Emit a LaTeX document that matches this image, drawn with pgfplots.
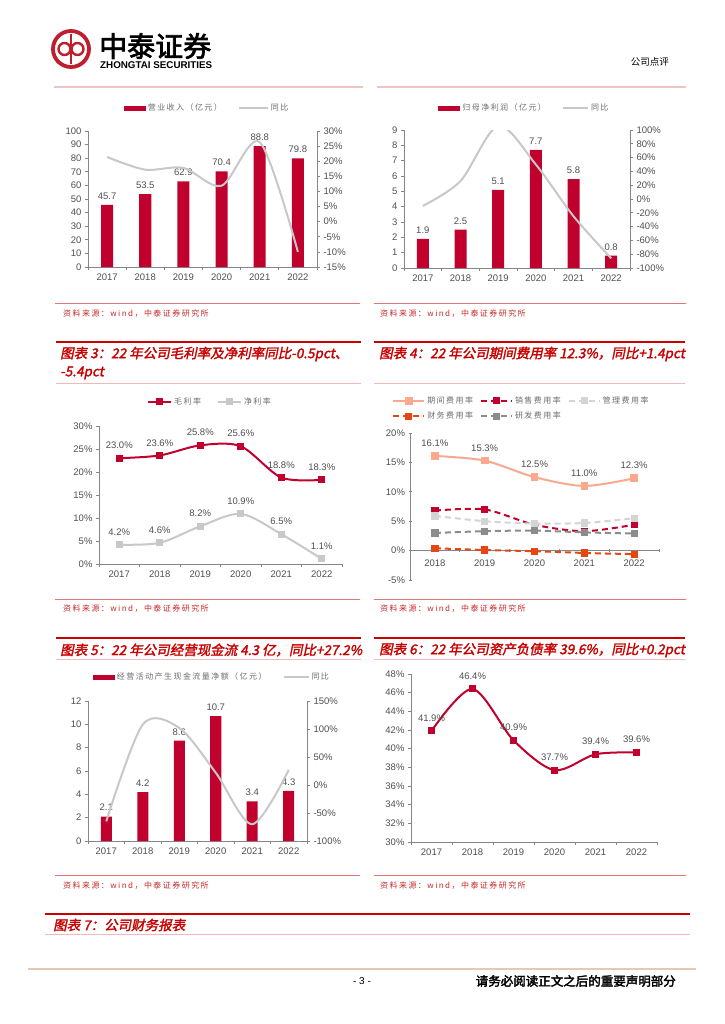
\documentclass[border=0pt]{standalone}
\usepackage{pgfplots}
\pgfplotsset{compat=1.18}
\usepackage{fontspec}
\setmainfont{Liberation Sans}
\newfontfamily\cjk{Noto Sans CJK SC}
\newfontfamily\cjks{Noto Sans CJK SC}[LetterSpace=18]
\newfontfamily\cjkt{Noto Sans CJK SC}[FakeBold=2,FakeSlant=0.2]
\newfontfamily\cjkbold{Noto Sans CJK SC}[FakeBold=2.5]

\definecolor{barred}{RGB}{192,0,45}
\definecolor{lgray}{RGB}{200,200,200}
\definecolor{axgray}{RGB}{134,134,134}
\definecolor{lblgray}{RGB}{80,80,80}
\definecolor{leggray}{RGB}{110,110,110}
\definecolor{titred}{RGB}{200,0,0}
\definecolor{srcred}{RGB}{200,40,40}
\definecolor{sepred}{RGB}{225,120,120}
\definecolor{thinpink}{RGB}{242,185,185}
\definecolor{hdrpink}{RGB}{238,195,195}
\definecolor{foottan}{RGB}{232,200,175}
\definecolor{salmon}{RGB}{250,168,142}
\definecolor{orng}{RGB}{228,70,20}
\definecolor{mgray}{RGB}{212,212,212}
\definecolor{dgray}{RGB}{140,140,140}
\definecolor{logored}{RGB}{190,30,45}

\pgfplotsset{
  base/.style={
    scale only axis, anchor=south west, clip=false,
    /pgf/number format/assume math mode=true,
    axis line style={draw=axgray, line width=0.7pt},
    tick style={draw=axgray, line width=0.7pt},
    tick align=outside,
    major tick length=3pt, minor tick length=3pt,
    ticklabel style={font=\fontsize{9.5}{10.5}\selectfont, text=lblgray},
    legend style={draw=none, fill=none, inner sep=0pt, font=\cjks\fontsize{8}{9}\selectfont, text=leggray,
      /tikz/every even column/.append style={column sep=14pt}},
    legend cell align=left,
  },
  cats6/.style={xmin=-0.5, xmax=5.5, xtick={0,...,5}, xticklabels={2017,2018,2019,2020,2021,2022},
    minor xtick={-0.5,0.5,...,5.5}, major x tick style={draw=none}},
  prim/.style={base, axis x line*=bottom, axis y line*=left, axis line style={-}},
  sec/.style={base, clip=true, axis x line=none, axis y line*=right, xmin=-0.5, xmax=5.5, xtick=\empty, axis line style={-}},
  lbl/.style={nodes near coords, point meta=explicit symbolic,
    every node near coord/.append style={font=\fontsize{9.5}{11}\selectfont, text=lblgray, yshift=#1}},
  barleg/.style={legend image code/.code={\fill[barred] (0pt,-2.5pt) rectangle (22pt,2.5pt);}},
  mleg/.style={legend image code/.code={\draw[mark repeat=2, mark phase=2, ##1] plot coordinates {(0pt,0pt) (#1/2,0pt) (#1,0pt)};}},
}

\begin{document}
\begin{tikzpicture}
\useasboundingbox (0,0) rectangle (724pt,-1024pt);
\fill[white] (0,0) rectangle (724pt,-1024pt);

% ---------- header ----------
\draw[logored, line width=3.8pt] (71pt,-49pt) circle (18pt);
\draw[logored, line width=2.6pt] (71pt,-34pt) -- (71pt,-64pt);
\draw[logored, line width=2.4pt] (64.5pt,-49pt) circle (6pt);
\draw[logored, line width=2.4pt] (77.5pt,-49pt) circle (6pt);
\node[anchor=west, inner sep=0pt, font=\cjkbold\fontsize{28}{31}\selectfont] at (99pt,-46pt) {中泰证券};
\node[anchor=west, inner sep=0pt, font=\bfseries\fontsize{9.8}{11}\selectfont] at (100pt,-65pt) {ZHONGTAI SECURITIES};
\node[anchor=east, inner sep=0pt, font=\cjk\fontsize{9.5}{11}\selectfont] at (669pt,-62pt) {公司点评};
\draw[hdrpink, line width=1.5pt] (54pt,-87pt) -- (363pt,-87pt);
\draw[hdrpink, line width=1.5pt] (377pt,-87pt) -- (686pt,-87pt);

% ---------- section rules and captions ----------
\foreach \y in {303,599,875}{
  \draw[sepred, line width=0.8pt] (55pt,-\y pt) -- (360pt,-\y pt);
  \draw[sepred, line width=0.8pt] (374pt,-\y pt) -- (686pt,-\y pt);
}
\foreach \y in {314,609,886}{
  \node[anchor=west, inner sep=0pt, text=srcred, font=\cjks\fontsize{8}{9}\selectfont] at (63pt,-\y pt) {资料来源：wind，中泰证券研究所};
  \node[anchor=west, inner sep=0pt, text=srcred, font=\cjks\fontsize{8}{9}\selectfont] at (380pt,-\y pt) {资料来源：wind，中泰证券研究所};
}
\foreach \y in {342,638}{
  \draw[titred, line width=1.8pt] (56pt,-\y pt) -- (361pt,-\y pt);
  \draw[titred, line width=1.8pt] (374pt,-\y pt) -- (685pt,-\y pt);
}
\draw[thinpink, line width=1pt] (56pt,-383pt) -- (361pt,-383pt);
\draw[thinpink, line width=1pt] (374pt,-383pt) -- (685pt,-383pt);
\draw[thinpink, line width=1pt] (56pt,-659pt) -- (361pt,-659pt);
\draw[thinpink, line width=1pt] (374pt,-659pt) -- (685pt,-659pt);
\draw[titred, line width=1.8pt] (45pt,-914pt) -- (690pt,-914pt);
\draw[thinpink, line width=1pt] (45pt,-934pt) -- (690pt,-934pt);

\tikzset{ttl/.style={anchor=west, inner sep=0pt, text=titred, font=\cjkt\fontsize{13.5}{15}\selectfont}}
\node[ttl] at (60pt,-354pt) {图表 3：22 年公司毛利率及净利率同比-0.5pct、};
\node[ttl] at (60pt,-373pt) {-5.4pct};
\node[ttl] at (379pt,-354pt) {图表 4：22 年公司期间费用率 12.3\%，同比+1.4pct};
\node[ttl] at (60pt,-650pt) {图表 5：22 年公司经营现金流 4.3 亿，同比+27.2\%};
\node[ttl] at (379pt,-650pt) {图表 6：22 年公司资产负债率 39.6\%，同比+0.2pct};
\node[ttl] at (53pt,-925pt) {图表 7：公司财务报表};

% ---------- footer ----------
\draw[foottan, line width=1.5pt] (28pt,-969pt) -- (696pt,-969pt);
\node[inner sep=0pt, font=\fontsize{10}{11}\selectfont] at (362pt,-981pt) {- 3 -};
\node[anchor=east, inner sep=0pt, font=\cjkbold\fontsize{12.5}{14}\selectfont] at (676pt,-981pt) {请务必阅读正文之后的重要声明部分};

% ---------- chart 1: revenue ----------
\begin{axis}[prim, cats6, at={(88pt,-267pt)}, width=229pt, height=136pt,
  ymin=0, ymax=100, ytick={0,10,...,100},
  legend columns=-1, legend style={at={(0.52,1.169)}, anchor=center}]
\addplot[ybar, bar width=12pt, fill=barred, draw=none, lbl=2pt, barleg]
  coordinates {(0,45.7)[45.7] (1,53.5)[53.5] (2,62.9)[62.9] (3,70.4)[70.4] (4,88.8)[88.8] (5,79.8)[79.8]};
\addlegendentry{营业收入（亿元）}
\addlegendimage{legend image code/.code={\draw[lgray, line width=2pt] (0pt,0pt) -- (29pt,0pt);}}
\addlegendentry{同比}
\end{axis}
\begin{axis}[sec, at={(88pt,-267pt)}, width=229pt, height=136pt,
  ymin=-15, ymax=30, ytick={-15,-10,...,30},
  yticklabels={-15\%,-10\%,-5\%,0\%,5\%,10\%,15\%,20\%,25\%,30\%}]
\addplot[smooth, lgray, line width=2pt] coordinates {(0,21.4) (1,17.2) (2,17.8) (3,11.9) (4,26.3) (5,-10.0)};
\end{axis}

% ---------- chart 2: net profit ----------
\begin{axis}[prim, cats6, at={(404pt,-268pt)}, width=226pt, height=138pt,
  ymin=0, ymax=9, ytick={0,1,...,9},
  legend columns=-1, legend style={at={(0.533,1.159)}, anchor=center}]
\addplot[ybar, bar width=12pt, fill=barred, draw=none, lbl=2pt, barleg]
  coordinates {(0,1.9)[1.9] (1,2.5)[2.5] (2,5.1)[5.1] (3,7.7)[7.7] (4,5.8)[5.8] (5,0.8)[0.8]};
\addlegendentry{归母净利润（亿元）}
\addlegendimage{legend image code/.code={\draw[lgray, line width=2pt] (0pt,0pt) -- (25pt,0pt);}}
\addlegendentry{同比}
\end{axis}
\begin{axis}[sec, at={(404pt,-268pt)}, width=226pt, height=138pt,
  ymin=-100, ymax=100, ytick={-100,-80,...,100},
  yticklabels={-100\%,-80\%,-60\%,-40\%,-20\%,0\%,20\%,40\%,60\%,80\%,100\%}]
\addplot[smooth, lgray, line width=2pt] coordinates {(0,-10) (1,26) (2,106) (3,50) (4,-25) (5,-86)};
\end{axis}

% ---------- chart 3: margins ----------
\begin{axis}[prim, cats6, at={(99pt,-564pt)}, width=243pt, height=138pt,
  ymin=0, ymax=30, ytick={0,5,...,30}, yticklabels={0\%,5\%,10\%,15\%,20\%,25\%,30\%},
  legend columns=-1, legend style={at={(0.457,1.174)}, anchor=center}]
\addplot[smooth, barred, line width=2pt, mark=square*, mark size=2.5pt, lbl=5pt, mleg=23pt]
  coordinates {(0,23.0)[23.0\%] (1,23.6)[23.6\%] (2,25.8)[25.8\%] (3,25.6)[25.6\%] (4,18.8)[18.8\%] (5,18.3)[18.3\%]};
\addlegendentry{毛利率}
\addplot[smooth, lgray, line width=2pt, mark=square*, mark size=2.5pt, lbl=5pt, mleg=23pt]
  coordinates {(0,4.2)[4.2\%] (1,4.6)[4.6\%] (2,8.2)[8.2\%] (3,10.9)[10.9\%] (4,6.5)[6.5\%] (5,1.1)[1.1\%]};
\addlegendentry{净利率}
\end{axis}

% ---------- chart 4: expense ratios ----------
\begin{axis}[base, at={(410pt,-580pt)}, width=249pt, height=147pt,
  xmin=-0.5, xmax=4.5, ymin=-5, ymax=20,
  axis x line=middle, axis y line=left, axis line style={-},
  hide obscured x ticks=false, hide obscured y ticks=false,
  xtick={0,...,4}, xticklabels={2018,2019,2020,2021,2022},
  minor xtick={-0.5,0.5,...,4.5}, major x tick style={draw=none},
  xticklabel style={yshift=-4pt},
  ytick={-5,0,...,20}, yticklabels={-5\%,0\%,5\%,10\%,15\%,20\%},
  legend columns=3,
  legend style={at={(-0.072,1.262)}, anchor=north west, row sep=3pt,
    /tikz/every even column/.append style={column sep=5pt}}]
\addplot[smooth, salmon, line width=2pt, mark=square*, mark size=2.8pt, lbl=5pt, mleg=31pt]
  coordinates {(0,16.1)[16.1\%] (1,15.3)[15.3\%] (2,12.5)[12.5\%] (3,11.0)[11.0\%] (4,12.3)[12.3\%]};
\addlegendentry{期间费用率}
\addplot[smooth, barred, line width=2pt, dash pattern=on 6pt off 4pt, mark=square*, mark size=2.6pt, mark options={solid}, mleg=31pt]
  coordinates {(0,6.8) (1,7.0) (2,4.4) (3,3.3) (4,4.4)};
\addlegendentry{销售费用率}
\addplot[smooth, mgray, line width=2pt, dash pattern=on 6pt off 4pt, mark=square*, mark size=2.6pt, mark options={solid}, mleg=31pt]
  coordinates {(0,5.9) (1,5.0) (2,4.6) (3,4.7) (4,5.5)};
\addlegendentry{管理费用率}
\addplot[smooth, orng, line width=2pt, dash pattern=on 6pt off 4pt, mark=square*, mark size=2.6pt, mark options={solid}, mleg=31pt]
  coordinates {(0,0.4) (1,0.1) (2,-0.1) (3,-0.4) (4,-0.6)};
\addlegendentry{财务费用率}
\addplot[smooth, dgray, line width=2pt, dash pattern=on 6pt off 4pt, mark=square*, mark size=2.6pt, mark options={solid}, mleg=31pt]
  coordinates {(0,3.0) (1,3.3) (2,3.4) (3,3.1) (4,2.9)};
\addlegendentry{研发费用率}
\end{axis}

% ---------- chart 5: operating cash flow ----------
\begin{axis}[prim, cats6, at={(88pt,-841pt)}, width=219pt, height=140pt,
  ymin=0, ymax=12, ytick={0,2,...,12},
  legend columns=-1, legend style={at={(0.566,1.171)}, anchor=center}]
\addplot[ybar, bar width=11pt, fill=barred, draw=none, lbl=2pt, barleg]
  coordinates {(0,2.1)[2.1] (1,4.2)[4.2] (2,8.6)[8.6] (3,10.7)[10.7] (4,3.4)[3.4] (5,4.3)[4.3]};
\addlegendentry{经营活动产生现金流量净额（亿元）}
\addlegendimage{legend image code/.code={\draw[lgray, line width=2pt] (0pt,0pt) -- (25pt,0pt);}}
\addlegendentry{同比}
\end{axis}
\begin{axis}[sec, at={(88pt,-841pt)}, width=219pt, height=140pt,
  ymin=-100, ymax=150, ytick={-100,-50,...,150},
  yticklabels={-100\%,-50\%,0\%,50\%,100\%,150\%}]
\addplot[smooth, lgray, line width=2pt] coordinates {(0,-65) (1,108) (2,102) (3,22) (4,-70) (5,27.2)};
\end{axis}

% ---------- chart 6: debt ratio ----------
\begin{axis}[prim, cats6, at={(411pt,-842pt)}, width=246pt, height=168pt,
  ymin=30, ymax=48, ytick={30,32,...,48},
  yticklabels={30\%,32\%,34\%,36\%,38\%,40\%,42\%,44\%,46\%,48\%}]
\addplot[smooth, barred, line width=2pt, mark=square*, mark size=2.5pt, lbl=5pt]
  coordinates {(0,41.9)[41.9\%] (1,46.4)[46.4\%] (2,40.9)[40.9\%] (3,37.7)[37.7\%] (4,39.4)[39.4\%] (5,39.6)[39.6\%]};
\end{axis}

\end{tikzpicture}
\end{document}
